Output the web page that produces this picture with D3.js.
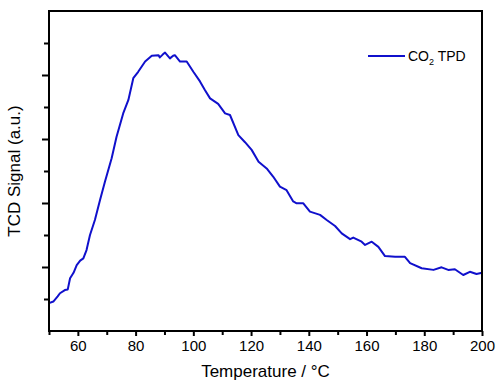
<!DOCTYPE html>
<html>
<head>
<meta charset="utf-8">
<script src="https://cdn.jsdelivr.net/npm/d3@7"></script>
<style>
	body { margin: 0; background: #fff; }
	svg { display: block; font-family: 'Liberation Sans', Arial, sans-serif; }
</style>
</head>
<body>
<div id="chart"></div>
<script>
'use strict';

// Data (temperature in C, signal in arbitrary units)
var temps = [50, 51.5, 53, 53.8, 55.5, 56.5, 57.3, 58.5, 59.6, 60.8, 61.9, 63, 64.2, 65.9, 67.7, 69.4,
	71.7, 73.4, 75.7, 77.5, 79.2, 80.9, 83.3, 85.6, 87.9, 88.4, 89.3, 90.2, 91.9, 93, 93.6, 95.4,
	97.7, 100, 102.3, 104, 105.8, 108.6, 111, 112.7, 115.6, 117.9, 120.2, 122.6, 125.4, 127.7,
	130, 132.3, 134.6, 135.8, 138.1, 140.4, 143.9, 146.2, 149.1, 151.4, 154.3, 155.4, 158.3,
	159.5, 161.8, 164.1, 166.4, 169.9, 173.3, 175.1, 179.1, 183.2, 186, 188.3, 190.6, 193.5,
	195.8, 198.1, 200];
var signal = [0.87, 0.92, 1.08, 1.18, 1.28, 1.3, 1.65, 1.82, 2.06, 2.2, 2.27, 2.53, 3.0, 3.47, 4.1, 4.67,
	5.4, 6.07, 6.8, 7.22, 7.9, 8.1, 8.42, 8.6, 8.62, 8.55, 8.63, 8.7, 8.52, 8.6, 8.62, 8.42,
	8.42, 8.1, 7.8, 7.53, 7.27, 7.1, 6.8, 6.75, 6.12, 5.9, 5.66, 5.29, 5.08, 4.82,
	4.51, 4.4, 4.05, 3.99, 3.99, 3.73, 3.63, 3.47, 3.28, 3.05, 2.87, 2.92, 2.79,
	2.69, 2.79, 2.63, 2.34, 2.32, 2.32, 2.12, 1.96, 1.91, 1.99, 1.91, 1.93, 1.75,
	1.85, 1.78, 1.82];
var xTicks = [60, 80, 100, 120, 140, 160, 180, 200];
var xMinorTicks = [50, 70, 90, 110, 130, 150, 170, 190];
var yMajorTicks = [2, 4, 6, 8];
var yMinorTicks = [1, 3, 5, 7, 9];
var seriesName = 'CO2 TPD';

var svg = d3.select('#chart').append('svg')
	.attr('width', 497)
	.attr('height', 383);

// Dimensions
var margin = {top: 11, right: 15, bottom: 52, left: 49};
var width = 497 - margin.left - margin.right;
var height = 383 - margin.top - margin.bottom;
var g = svg.append('g').attr('transform', 'translate(' + margin.left + ',' + margin.top + ')');

// Scales
var x = d3.scaleLinear().domain([50, 200]).range([0, width]);
var y = d3.scaleLinear().domain([0, 10]).range([height, 0]);

var color = '#1010cc';

// Line
var points = temps.map(function(t, i) { return [t, signal[i]]; });
var line = d3.line()
	.x(function(d) { return x(d[0]); })
	.y(function(d) { return y(d[1]); });

g.append('path')
	.datum(points)
	.attr('fill', 'none')
	.attr('stroke', color)
	.attr('stroke-width', 2)
	.attr('stroke-linejoin', 'round')
	.attr('d', line);

// X Axis
var xAxis = g.append('g')
	.attr('transform', 'translate(0,' + height + ')')
	.call(d3.axisBottom(x).tickValues(xTicks).tickSize(5).tickPadding(4).tickFormat(d3.format('d')));
xAxis.select('.domain').remove();
xAxis.selectAll('line').attr('stroke', '#000').attr('stroke-width', 2);
xAxis.selectAll('text').attr('font-size', 15).attr('fill', '#000').attr('font-family', 'Liberation Sans, Arial, sans-serif');

g.append('g')
	.attr('transform', 'translate(0,' + height + ')')
	.call(d3.axisBottom(x).tickValues(xMinorTicks).tickSize(4).tickFormat(''))
	.call(function(s) { s.select('.domain').remove(); })
	.selectAll('line').attr('stroke', '#000').attr('stroke-width', 2);

// Y Axis (no labels)
g.append('g')
	.call(d3.axisLeft(y).tickValues(yMajorTicks).tickSize(7).tickFormat(''))
	.call(function(s) { s.select('.domain').remove(); })
	.selectAll('line').attr('stroke', '#000').attr('stroke-width', 2);
g.append('g')
	.call(d3.axisLeft(y).tickValues(yMinorTicks).tickSize(5).tickFormat(''))
	.call(function(s) { s.select('.domain').remove(); })
	.selectAll('line').attr('stroke', '#000').attr('stroke-width', 2);

// Frame
g.append('rect')
	.attr('width', width)
	.attr('height', height)
	.attr('fill', 'none')
	.attr('stroke', '#000')
	.attr('stroke-width', 2);

// Axis titles
svg.append('text')
	.attr('x', margin.left + width / 2)
	.attr('y', 377)
	.attr('text-anchor', 'middle')
	.attr('font-size', 17)
	.text('Temperature / °C');

svg.append('text')
	.attr('transform', 'translate(20,' + (margin.top + height / 2) + ') rotate(-90)')
	.attr('text-anchor', 'middle')
	.attr('font-size', 17)
	.text('TCD Signal (a.u.)');

// Legend
var legend = svg.append('g').attr('transform', 'translate(368,56)');
legend.append('line')
	.attr('x1', 0).attr('x2', 37)
	.attr('stroke', color)
	.attr('stroke-width', 2);
var lt = legend.append('text')
	.attr('x', 40)
	.attr('y', 5)
	.attr('font-size', 14);
lt.append('tspan').text(seriesName.slice(0, 2));
lt.append('tspan').attr('font-size', 9).attr('dy', 4).text(seriesName.slice(2, 3));
lt.append('tspan').attr('dy', -4).text(seriesName.slice(3));
</script>
</body>
</html>
